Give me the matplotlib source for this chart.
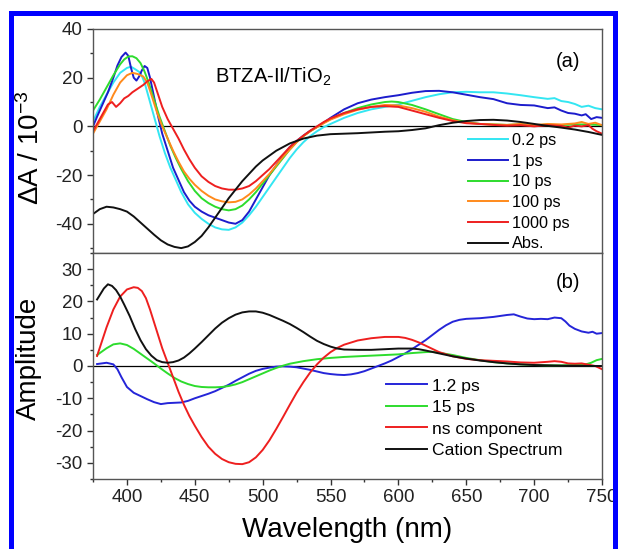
import matplotlib
matplotlib.use('Agg')
import matplotlib.pyplot as plt
import matplotlib.ticker as ticker
from matplotlib.patches import Rectangle

plt.rcParams['font.family'] = ['Liberation Sans', 'DejaVu Sans']
plt.rcParams['mathtext.fontset'] = 'custom'
plt.rcParams['mathtext.rm'] = 'Liberation Sans'
plt.rcParams['mathtext.it'] = 'Liberation Sans:italic'
plt.rcParams['mathtext.default'] = 'regular'
plt.rcParams['axes.unicode_minus'] = False

# (a) transient spectra, dA in units of 1e-3
wl_02ps = [375, 380, 385, 390, 395, 400, 403, 406, 410, 413, 416, 420, 424, 428, 432, 436, 440, 445,
           450, 455, 460, 465, 470, 475, 480, 485, 490, 495, 500, 505, 510, 515, 520, 525, 530, 535,
           540, 545, 550, 560, 570, 580, 590, 600, 610, 620, 630, 640, 650, 660, 670, 680, 690, 700,
           710, 715, 720, 725, 730, 735, 740, 745, 750]
dA_02ps = [2, 8, 13, 18, 22, 24, 24.5, 23.5, 22, 18, 12, 4, -4, -11, -17, -22, -27, -32,
           -35.5, -38, -40, -41.5, -42.3, -42.5, -41.5, -39.5, -36.5, -33, -29, -25, -21, -17, -13, -9.5, -6.5, -4,
           -2, -0.3, 1, 3.5, 5.5, 7, 8, 9, 10.5, 12, 13.2, 14, 14.2, 14, 14, 13.5, 12.8, 12,
           11.3, 11.6, 10.4, 10, 9.2, 8, 8.5, 7.5, 7]

wl_1ps = [375, 378, 382, 386, 390, 393, 396, 399, 401, 403, 405, 407, 409, 411, 413, 415, 417, 420,
          423, 426, 430, 434, 438, 442, 446, 450, 455, 460, 465, 470, 475, 480, 485, 490, 495, 500,
          505, 510, 515, 520, 525, 530, 535, 540, 545, 550, 560, 570, 580, 590, 600, 610, 620, 630,
          640, 650, 660, 670, 680, 690, 700, 710, 715, 720, 725, 730, 735, 738, 742, 746, 750]
dA_1ps = [0, 4, 9, 14, 20, 25, 28.5, 30.3, 29, 24, 20, 18.8, 20.5, 23, 24.8, 24, 20, 12,
          4, -3, -10, -17, -22, -27, -30.5, -33, -35, -36.5, -37.5, -38.5, -39.5, -40, -38.5, -35, -30, -25,
          -20, -16, -12, -8.5, -6, -3.8, -1.8, -0.2, 1.5, 3.5, 7, 9.5, 11, 12, 12.8, 13.8, 14.5, 14.6,
          14, 13, 12, 11.2, 9.5, 8.8, 8.6, 7.5, 7.8, 6.5, 5.5, 5.2, 4.5, 5, 3, 3.8, 3.5]

wl_10ps = [375, 380, 385, 390, 395, 398, 401, 404, 407, 410, 413, 416, 420, 424, 428, 432, 436, 440,
           445, 450, 455, 460, 465, 470, 475, 480, 485, 490, 495, 500, 505, 510, 515, 520, 525, 530,
           535, 540, 545, 550, 560, 570, 580, 590, 595, 600, 610, 620, 630, 640, 650, 660, 670, 680,
           690, 700, 710, 720, 730, 740, 750]
dA_10ps = [6.5, 11, 16, 21, 25.5, 27.5, 28.7, 28.8, 28, 26, 22.5, 18, 11, 4, -2, -8, -13, -17.5,
           -22.5, -26.5, -29.5, -31.5, -33, -34, -34.5, -34, -32.5, -30, -27, -23.5, -20, -16.5, -13, -9.5, -6.5, -4,
           -2, -0.3, 1.5, 3, 5.5, 7.5, 9, 10, 10.2, 10, 8.8, 7, 5, 3, 1.8, 1, 0.8, 0.6,
           0.8, 0.5, 0.7, 0.5, 0.8, 0.8, 0.5]

wl_100ps = [375, 380, 385, 390, 395, 400, 404, 408, 412, 415, 418, 422, 426, 430, 434, 438, 442, 446,
            450, 455, 460, 465, 470, 475, 480, 485, 490, 495, 500, 505, 510, 515, 520, 525, 530, 535,
            540, 545, 550, 560, 570, 580, 590, 600, 610, 620, 630, 640, 650, 660, 670, 680, 690, 700,
            710, 720, 730, 735, 740, 745, 750]
dA_100ps = [-3, 2, 7, 13, 18, 21, 22, 21.5, 20.5, 18, 13, 6, 0, -5, -10, -14.5, -18.5, -21.5,
            -24, -26.5, -28.5, -30, -30.8, -31.2, -31, -30, -28, -25.5, -22.5, -19.5, -16, -12.5, -9.5, -6.5, -4, -2,
            -0.3, 1.3, 2.8, 5, 6.8, 8, 8.8, 8.6, 7.5, 6, 4, 2.5, 1.5, 1, 0.8, 0.6, 1, 0.5,
            1, 0.8, 1.2, 1.8, 1, 1.5, 0.5]

wl_1000ps = [375, 378, 382, 386, 389, 392, 395, 398, 401, 404, 408, 412, 415, 418, 420, 423, 426, 430,
             434, 438, 442, 446, 450, 455, 460, 465, 470, 475, 480, 485, 490, 495, 500, 505, 510, 515,
             520, 525, 530, 535, 540, 545, 550, 560, 570, 580, 590, 600, 610, 620, 630, 640, 650, 660,
             670, 680, 690, 700, 710, 720, 725, 730, 735, 740, 743, 746, 750]
dA_1000ps = [-2, 1, 5, 9, 10, 8, 9.5, 11.5, 12.5, 14, 15.5, 17, 18.5, 19.5, 18, 13, 8, 3,
             -1, -5, -9.5, -13.5, -17, -20.5, -22.8, -24.5, -25.5, -26, -26, -25.5, -24.5, -22.5, -20, -17.5, -14.5, -11.5,
             -8.5, -6, -3.8, -1.8, 0, 1.8, 3.3, 5.5, 7, 8, 8.3, 8, 6.5, 5, 3.5, 2.2, 1.3, 1,
             0.6, 0.3, 0.5, 0, 0.5, 0.2, -0.5, 0.3, 0, 0.5, -1, -2, -3]

wl_abs = [375, 380, 385, 390, 395, 400, 405, 410, 415, 420, 425, 430, 435, 440, 445, 450, 455, 460,
          465, 470, 475, 480, 485, 490, 495, 500, 510, 520, 530, 540, 550, 560, 570, 580, 590, 600,
          610, 620, 630, 640, 650, 660, 670, 680, 690, 700, 710, 720, 730, 740, 750]
dA_abs = [-36, -34, -33, -33.3, -34, -35, -37, -39.5, -42, -44.5, -46.8, -48.5, -49.5, -50, -49.3, -47.5, -45, -41.5,
          -37.5, -33.5, -29.5, -26, -22.5, -19.5, -16.5, -14, -10, -7, -5, -3.8, -3.2, -3, -2.8, -2.5, -2.2, -2,
          -1.5, -0.8, 0.5, 1.5, 2.2, 2.6, 2.7, 2.4, 1.8, 1, 0.2, -0.5, -1.3, -2.3, -3.5]

# (b) decay associated spectra and cation spectrum
wl_12ps = [378, 385, 390, 393, 396, 400, 405, 410, 415, 420, 425, 430, 435, 440, 445, 450, 455, 460,
           465, 470, 475, 480, 485, 490, 495, 500, 505, 510, 515, 520, 525, 530, 535, 540, 545, 550,
           555, 560, 565, 570, 575, 580, 585, 590, 595, 600, 605, 610, 615, 620, 625, 630, 635, 640,
           645, 650, 655, 660, 665, 670, 675, 680, 685, 690, 695, 700, 705, 710, 715, 720, 723, 726,
           730, 735, 740, 743, 746, 750]
amp_12ps = [0.6, 1, 0.5, -1, -3.5, -6.5, -8.3, -9.3, -10.3, -11.2, -11.8, -11.5, -11.4, -11.3, -10.8, -10, -9.3, -8.6,
            -7.8, -6.8, -5.8, -4.6, -3.5, -2.4, -1.5, -0.9, -0.5, -0.2, -0.1, -0.2, -0.4, -0.8, -1.2, -1.7, -2.2, -2.5,
            -2.7, -2.8, -2.6, -2.2, -1.6, -0.8, 0, 0.8, 1.7, 2.8, 3.9, 5.2, 6.6, 8, 9.6, 11.2, 12.6, 13.7,
            14.3, 14.6, 14.7, 14.8, 15, 15.2, 15.5, 15.8, 16, 15.3, 14.7, 14.5, 14.6, 14.5, 15, 14.8, 13.8, 12.5,
            11.5, 10.7, 10.3, 10.6, 10, 10.2]

wl_15ps = [378, 385, 390, 395, 400, 405, 410, 415, 420, 425, 430, 435, 440, 445, 450, 455, 460, 465,
           470, 475, 480, 485, 490, 495, 500, 505, 510, 515, 520, 530, 540, 550, 560, 570, 580, 590,
           600, 610, 620, 625, 630, 640, 650, 660, 670, 680, 690, 700, 710, 720, 730, 738, 742, 746, 750]
amp_15ps = [3.4, 5.5, 6.7, 7, 6.5, 5.3, 3.8, 2.3, 0.8, -0.8, -2.3, -3.7, -4.8, -5.6, -6.2, -6.5, -6.6, -6.6,
            -6.5, -6.2, -5.7, -5, -4.1, -3.2, -2.3, -1.4, -0.6, 0.1, 0.7, 1.5, 2.1, 2.5, 2.8, 3, 3.2, 3.4,
            3.6, 4, 4.3, 4.4, 4.1, 3.4, 2.5, 1.8, 1.2, 0.8, 0.5, 0.3, 0.2, 0.2, 0.3, 0.5, 1, 1.8, 2.2]

wl_ns = [378, 385, 390, 395, 400, 405, 408, 411, 414, 417, 420, 423, 426, 430, 434, 438, 442, 446,
         450, 455, 460, 465, 470, 475, 480, 485, 490, 495, 500, 505, 510, 515, 520, 525, 530, 535,
         540, 545, 550, 555, 560, 570, 580, 590, 600, 605, 610, 615, 620, 625, 630, 640, 650, 660,
         670, 680, 690, 700, 710, 715, 720, 725, 730, 735, 740, 745, 750]
amp_ns = [3.1, 12, 17.5, 21.5, 23.7, 24.4, 24.2, 23.2, 21, 17.5, 13.5, 9.5, 5.5, 1, -3.5, -8, -12, -15.5,
          -18.5, -22, -25, -27.2, -28.8, -29.8, -30.3, -30.4, -29.8, -28.3, -26, -23, -19.5, -15.8, -12, -8.3, -5, -2,
          0.5, 2.6, 4.3, 5.6, 6.6, 7.9, 8.6, 9, 9, 8.7, 8.1, 7.3, 6.3, 5.3, 4.3, 3, 2.2, 1.8,
          1.6, 1.4, 1.1, 1, 1.3, 1.5, 1.3, 0.8, 0.7, 0.8, 0.4, 0, -1]

wl_cat = [378, 383, 386, 389, 392, 395, 398, 402, 406, 410, 414, 418, 422, 426, 430, 434, 438, 442,
          446, 450, 455, 460, 465, 470, 475, 480, 485, 490, 495, 500, 505, 510, 515, 520, 525, 530,
          535, 540, 545, 550, 555, 560, 570, 580, 590, 600, 610, 615, 620, 630, 640, 650, 660, 670,
          680, 690, 700, 720, 740, 750]
amp_cat = [20.6, 24, 25.3, 24.8, 23.5, 21.5, 19, 15.5, 11.5, 8, 5.2, 3.2, 1.8, 1.2, 1, 1.2, 1.7, 2.6,
           3.9, 5.4, 7.4, 9.5, 11.6, 13.4, 14.8, 15.9, 16.6, 16.9, 16.9, 16.5, 15.8, 14.9, 14, 13, 11.8, 10.5,
           9.1, 7.8, 6.8, 6, 5.4, 5.1, 5, 5, 5.2, 5.4, 5.4, 5.2, 4.8, 3.9, 3, 2.3, 1.7, 1.2,
           0.8, 0.5, 0.3, 0.1, 0, 0]

fig = plt.figure(figsize=(6.2, 5.49), dpi=100)
ax1 = fig.add_axes([0.150, 0.5392, 0.821, 0.408])
ax2 = fig.add_axes([0.150, 0.1275, 0.821, 0.4117])

lw = 1.4
ax1.axhline(0, color='black', lw=0.9, zorder=1)
ax1.plot(wl_02ps, dA_02ps, color='#33e6f2', lw=lw, label='0.2 ps')
ax1.plot(wl_1ps, dA_1ps, color='#1c1ccc', lw=lw, label='1 ps')
ax1.plot(wl_10ps, dA_10ps, color='#2ddc2d', lw=lw, label='10 ps')
ax1.plot(wl_100ps, dA_100ps, color='#ff8a1c', lw=lw, label='100 ps')
ax1.plot(wl_1000ps, dA_1000ps, color='#ee1f1f', lw=lw, label='1000 ps')
ax1.plot(wl_abs, dA_abs, color='#111111', lw=lw, label='Abs.')

ax2.axhline(0, color='black', lw=0.9, zorder=1)
ax2.plot(wl_12ps, amp_12ps, color='#2525d8', lw=lw, label='1.2 ps')
ax2.plot(wl_15ps, amp_15ps, color='#2ddc2d', lw=lw, label='15 ps')
ax2.plot(wl_ns, amp_ns, color='#ee1f1f', lw=lw, label='ns component')
ax2.plot(wl_cat, amp_cat, color='#111111', lw=lw, label='Cation Spectrum')

for ax in (ax1, ax2):
    ax.set_xlim(375, 750)
    ax.xaxis.set_major_locator(ticker.MultipleLocator(50))
    ax.xaxis.set_minor_locator(ticker.MultipleLocator(25))
    for s in ax.spines.values():
        s.set_color('#555555')
        s.set_linewidth(1.0)
    ax.tick_params(which='both', direction='out', color='#333333', width=1.0,
                   labelsize=13.5, labelcolor='#222222', right=False, top=False)
    ax.tick_params(which='major', length=4)
    ax.tick_params(which='minor', length=2.5)

ax1.set_ylim(-52, 40)
ax1.yaxis.set_major_locator(ticker.MultipleLocator(20))
ax1.yaxis.set_minor_locator(ticker.MultipleLocator(10))
ax1.tick_params(axis='x', which='both', bottom=False, labelbottom=False)

ax2.set_ylim(-35, 35)
ax2.yaxis.set_major_locator(ticker.MultipleLocator(10))
ax2.yaxis.set_minor_locator(ticker.MultipleLocator(5))

ax1.set_ylabel(r'ΔA / 10$^{-3}$', fontsize=20)
ax2.set_ylabel('Amplitude', fontsize=20)
ax2.set_xlabel('Wavelength (nm)', fontsize=20)
ax1.yaxis.set_label_coords(-0.094, 0.47)
ax2.yaxis.set_label_coords(-0.100, 0.535)
ax2.xaxis.set_label_coords(0.5, -0.17)

ax1.text(0.958, 0.855, '(a)', transform=ax1.transAxes, ha='right', va='center', fontsize=14.5)
ax2.text(0.958, 0.87, '(b)', transform=ax2.transAxes, ha='right', va='center', fontsize=14.5)
ax1.text(0.24, 0.785, 'BTZA-II/TiO$_2$', transform=ax1.transAxes, ha='left', va='center', fontsize=14.5)

ax1.legend(loc='upper left', bbox_to_anchor=(0.755, 0.758), bbox_transform=fig.transFigure,
           frameon=False, fontsize=11.7, handlelength=2.46, handletextpad=0.25,
           labelspacing=0.35, borderpad=0, borderaxespad=0)
ax2.legend(loc='upper left', bbox_to_anchor=(0.623, 0.311), bbox_transform=fig.transFigure,
           frameon=False, fontsize=12.6, handlelength=2.34, handletextpad=0.28,
           labelspacing=0.36, borderpad=0, borderaxespad=0)

# blue frame around the figure, open at the bottom
frame = Rectangle((10.5 / 620, -0.1), (615 - 10.5) / 620, (549 - 13) / 549 + 0.1,
                  transform=fig.transFigure, fill=False, edgecolor='#0000ff', lw=3.6, clip_on=False)
fig.add_artist(frame)

fig.savefig('out.png', dpi=100)
